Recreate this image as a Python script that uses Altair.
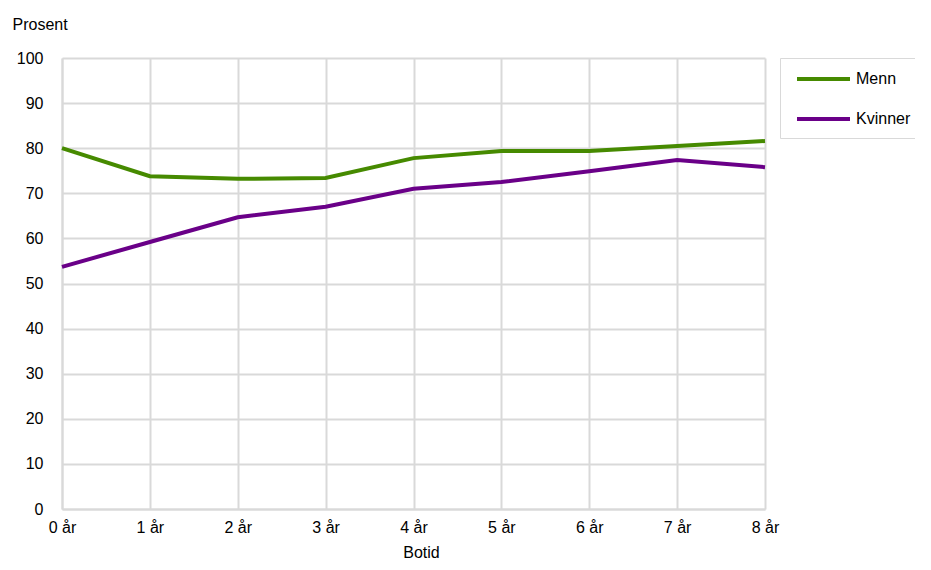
import altair as alt
import pandas as pd

years = ["0 år", "1 år", "2 år", "3 år", "4 år", "5 år", "6 år", "7 år", "8 år"]
menn = [80.0, 73.8, 73.2, 73.4, 77.8, 79.4, 79.4, 80.5, 81.6]
kvinner = [53.7, 59.2, 64.7, 67.0, 71.0, 72.5, 74.9, 77.4, 75.8]
series = ["Menn", "Kvinner"]
colors = ["#468a00", "#6a0088"]

rows = []
for s, vals in zip(series, [menn, kvinner]):
    for y, v in zip(years, vals):
        rows.append({"Botid": y, "Prosent": v, "Kjønn": s})
df = pd.DataFrame(rows)

FONT = "Liberation Sans"

chart = alt.Chart(df).mark_line(strokeWidth=4).encode(
    x=alt.X("Botid:O", sort=years, scale=alt.Scale(paddingOuter=0, paddingInner=0, padding=0),
            axis=alt.Axis(title="Botid", labelAngle=0, grid=True, tickSize=0, labelPadding=10,
                          titleX=359, titleY=43, titleBaseline="middle", titleFontWeight="normal")),
    y=alt.Y("Prosent:Q", scale=alt.Scale(domain=[0, 100]),
            axis=alt.Axis(title="Prosent", values=list(range(0, 101, 10)), tickSize=0, labelPadding=19,
                          titleAngle=0, titleAlign="left", titleX=-50, titleY=-34,
                          titleBaseline="middle", titleFontWeight="normal")),
    color=alt.Color("Kjønn:N", sort=series, scale=alt.Scale(domain=series, range=colors),
                    legend=alt.Legend(title=None, orient="none", legendX=718, legendY=0,
                                      symbolType="M-0.5,0H6.125", symbolSize=256, symbolStrokeWidth=4,
                                      labelFontSize=16, labelFont=FONT, labelColor="#000",
                                      strokeColor="#d9d9d9", padding=11, rowPadding=22,
                                      labelOffset=45, labelLimit=200)),
).properties(
    width=703, height=451,
    padding={"left": 54, "top": 50, "right": 150, "bottom": 54},
    autosize=alt.AutoSizeParams(type="none"),
    background="white",
).configure_axis(
    labelFont=FONT, titleFont=FONT, labelFontSize=16, titleFontSize=16,
    labelColor="#000", titleColor="#000", gridColor="#d9d9d9", gridWidth=2,
    domainColor="#d9d9d9", domainWidth=2,
).configure_view(stroke=None)

chart.save("out.html", embed_options={"renderer": "svg", "actions": False})
